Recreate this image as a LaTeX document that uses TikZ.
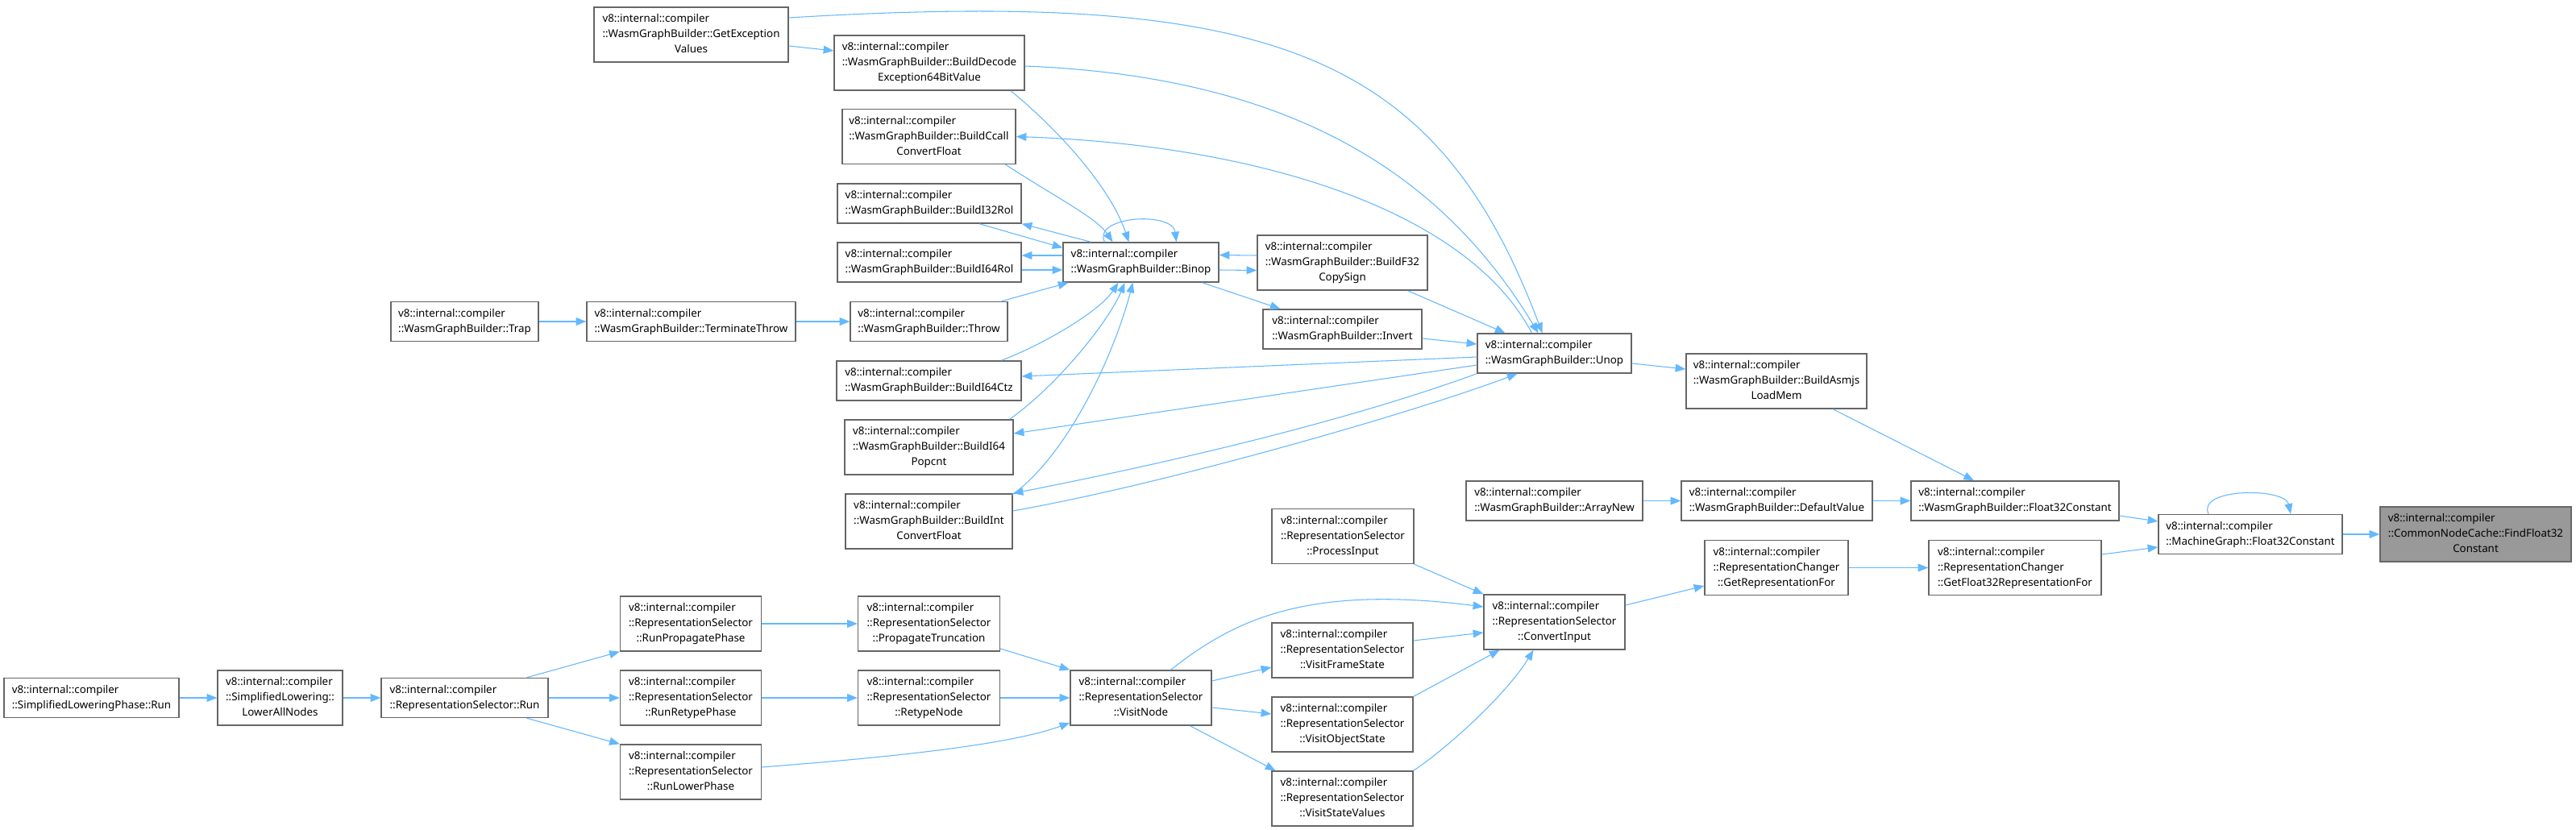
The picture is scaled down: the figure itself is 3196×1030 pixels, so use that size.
\documentclass[tikz,border=0pt]{standalone}
\usepackage{fontspec}
\setmainfont{Noto Sans}
\usepackage{tikz}
\usetikzlibrary{arrows.meta}
\definecolor{edgeblue}{HTML}{63B8FF}
\definecolor{boxline}{HTML}{666666}
\definecolor{hitfill}{HTML}{999999}
\newlength{\px}
\setlength{\px}{0.025cm}
\newcommand{\nsline}{\multicolumn{1}{@{}l@{}}{v8::internal::compiler}}
\newcommand{\fnii}[1]{\begin{tabular}{@{}c@{}}\nsline\\#1\end{tabular}}
\newcommand{\fniii}[2]{\begin{tabular}{@{}c@{}}\nsline\\\multicolumn{1}{@{}l@{}}{#1}\\#2\end{tabular}}
\tikzset{
  fn/.style={draw=boxline, line width=1pt, fill=white, inner sep=0pt, minimum height=49\px},
  fnt/.style={fn, minimum height=68\px},
  hit/.style={fnt, fill=hitfill},
  arrow/.style={-{Triangle[length=9pt,width=7pt]}, draw=edgeblue, line width=0.75pt}
}
\begin{document}
\begin{tikzpicture}[x=0.025cm, y=-0.025cm, font={\fontsize{9.5pt}{13.5pt}\selectfont}]
  \path[use as bounding box, fill=white] (0,0) rectangle (3196,1030);

  % WasmGraphBuilder callers
  \node[fnt, minimum width=241\px] (gev) at (857.5,43) {\fniii{::WasmGraphBuilder::GetException}{Values}};
  \node[fnt, minimum width=236\px] (bdec) at (1153,78) {\fniii{::WasmGraphBuilder::BuildDecode}{Exception64BitValue}};
  \node[fnt, minimum width=215\px] (bccall) at (1152.5,169.5) {\fniii{::WasmGraphBuilder::BuildCcall}{ConvertFloat}};
  \node[fn, minimum width=228\px] (bi32rol) at (1153,252.5) {\fnii{::WasmGraphBuilder::BuildI32Rol}};
  \node[fn, minimum width=228\px] (bi64rol) at (1153,325.5) {\fnii{::WasmGraphBuilder::BuildI64Rol}};
  \node[fn, minimum width=193\px] (binop) at (1415.5,325.5) {\fnii{::WasmGraphBuilder::Binop}};
  \node[fn, minimum width=183\px] (trap) at (576.5,399) {\fnii{::WasmGraphBuilder::Trap}};
  \node[fn, minimum width=259\px] (tthrow) at (857.5,399) {\fnii{::WasmGraphBuilder::TerminateThrow}};
  \node[fn, minimum width=195\px] (thr) at (1152.5,399) {\fnii{::WasmGraphBuilder::Throw}};
  \node[fn, minimum width=229\px] (bi64ctz) at (1152.5,472.5) {\fnii{::WasmGraphBuilder::BuildI64Ctz}};
  \node[fnt, minimum width=209\px] (popcnt) at (1152.5,555) {\fniii{::WasmGraphBuilder::BuildI64}{Popcnt}};
  \node[fnt, minimum width=207\px] (bintcf) at (1152.5,647) {\fniii{::WasmGraphBuilder::BuildInt}{ConvertFloat}};
  \node[fnt, minimum width=211\px] (f32cs) at (1665.5,326) {\fniii{::WasmGraphBuilder::BuildF32}{CopySign}};
  \node[fn, minimum width=197\px] (invert) at (1665.5,408.5) {\fnii{::WasmGraphBuilder::Invert}};
  \node[fn, minimum width=191\px] (unop) at (1928.5,438.5) {\fnii{::WasmGraphBuilder::Unop}};
  \node[fnt, minimum width=224\px] (loadmem) at (2204,473) {\fniii{::WasmGraphBuilder::BuildAsmjs}{LoadMem}};
  \node[fn, minimum width=219\px] (arraynew) at (1928.5,621.5) {\fnii{::WasmGraphBuilder::ArrayNew}};
  \node[fn, minimum width=237\px] (defval) at (2204.5,621.5) {\fnii{::WasmGraphBuilder::DefaultValue}};
  \node[fn, minimum width=258\px] (wf32c) at (2500,621.5) {\fnii{::WasmGraphBuilder::Float32Constant}};
  \node[fn, minimum width=228\px] (mgf32c) at (2792,663) {\fnii{::MachineGraph::Float32Constant}};
  \node[hit, minimum width=237\px] (find) at (3071.5,663) {\fniii{::CommonNodeCache::FindFloat32}{Constant}};

  % representation selector side
  \node[fnt, minimum width=214\px] (getf32r) at (2500,704.5) {\fniii{::RepresentationChanger}{::GetFloat32RepresentationFor}};
  \node[fnt, minimum width=178\px] (getrep) at (2204,704.5) {\fniii{::RepresentationChanger}{::GetRepresentationFor}};
  \node[fnt, minimum width=175\px] (convin) at (1928.5,772) {\fniii{::RepresentationSelector}{::ConvertInput}};
  \node[fnt, minimum width=176\px] (procin) at (1666,665.5) {\fniii{::RepresentationSelector}{::ProcessInput}};
  \node[fnt, minimum width=175\px] (vfs) at (1665.5,807) {\fniii{::RepresentationSelector}{::VisitFrameState}};
  \node[fnt, minimum width=175\px] (vos) at (1665.5,899) {\fniii{::RepresentationSelector}{::VisitObjectState}};
  \node[fnt, minimum width=175\px] (vsv) at (1665.5,991) {\fniii{::RepresentationSelector}{::VisitStateValues}};
  \node[fnt, minimum width=175\px] (visitnode) at (1415.5,866) {\fniii{::RepresentationSelector}{::VisitNode}};
  \node[fnt, minimum width=176\px] (proptrunc) at (1152.5,774) {\fniii{::RepresentationSelector}{::PropagateTruncation}};
  \node[fnt, minimum width=176\px] (retype) at (1152.5,866) {\fniii{::RepresentationSelector}{::RetypeNode}};
  \node[fnt, minimum width=175\px] (runprop) at (857,774) {\fniii{::RepresentationSelector}{::RunPropagatePhase}};
  \node[fnt, minimum width=175\px] (runretype) at (857,866) {\fniii{::RepresentationSelector}{::RunRetypePhase}};
  \node[fnt, minimum width=175\px] (runlower) at (857,958) {\fniii{::RepresentationSelector}{::RunLowerPhase}};
  \node[fn, minimum width=207\px] (rsrun) at (576.5,866) {\fnii{::RepresentationSelector::Run}};
  \node[fnt, minimum width=155\px] (lowerall) at (347.5,866) {\fniii{::SimplifiedLowering::}{LowerAllNodes}};
  \node[fn, minimum width=217\px] (slprun) at (113.5,866) {\fnii{::SimplifiedLoweringPhase::Run}};

  % calls into Binop and Unop
  \draw[arrow] ([yshift=-14\px]gev.east) -- ([yshift=15\px]bdec.west);
  \draw[arrow] ([yshift=21\px]gev.east) .. controls (1578,-14) and (1782,64) .. ([xshift=-15\px]unop.north);
  \draw[arrow] ([yshift=-4\px]bdec.east) .. controls (1600,95) and (1788,214) .. ([xshift=-20\px]unop.north);
  \draw[arrow] ([xshift=-28\px]unop.north) .. controls (1820,260) and (1560,180) .. (bccall.east);
  \draw[arrow] ([xshift=101\px]bdec.south) .. controls (1300,150) and (1375,225) .. ([xshift=-15\px]binop.north);
  \draw[arrow] ([xshift=95\px]bccall.south) .. controls (1310,245) and (1360,270) .. ([xshift=-35\px]binop.north);
  \draw[arrow] ([xshift=62\px]bi32rol.south) -- ([yshift=18\px]binop.west);
  \draw[arrow] ([xshift=-62\px]binop.north) -- (bi32rol.south east);
  \draw[arrow] ([yshift=8.5\px]binop.west) -- ([yshift=8.5\px]bi64rol.east);
  \draw[arrow] ([yshift=-9.5\px]bi64rol.east) -- ([yshift=-9.5\px]binop.west);
  \draw[arrow] ([xshift=-45\px]binop.north) .. controls (1355,268) and (1455,262) .. ([xshift=44\px]binop.north);
  \draw[arrow] ([xshift=90\px]thr.north) -- ([xshift=-90\px]binop.south);
  \draw[arrow] ([xshift=90\px]bi64ctz.north) .. controls (1300,425) and (1365,385) .. ([xshift=-28\px]binop.south);
  \draw[arrow] ([yshift=-4.5\px]unop.west) -- ([yshift=5.5\px]bi64ctz.east);
  \draw[arrow] ([xshift=100\px]popcnt.north) .. controls (1310,480) and (1375,400) .. ([xshift=-20\px]binop.south);
  \draw[arrow] ([yshift=-14.5\px]unop.west) -- ([yshift=17\px]popcnt.east);
  \draw[arrow] (unop.south west) .. controls (1650,530) and (1420,580) .. (bintcf.north east);
  \draw[arrow] ([xshift=103\px,yshift=-2\px]bintcf.north) .. controls (1330,560) and (1385,430) .. ([xshift=-10\px]binop.south);
  \draw[arrow] ([yshift=13\px]bintcf.east) .. controls (1450,600) and (1760,510) .. ([xshift=-46\px]unop.south);
  \draw[arrow] ([yshift=9\px]f32cs.west) -- ([yshift=9\px]binop.east);
  \draw[arrow] ([yshift=-9.5\px]binop.east) -- ([yshift=-9.5\px]f32cs.west);
  \draw[arrow] ([xshift=76\px]binop.south) -- ([xshift=-77\px]invert.north);
  \draw[arrow] ([yshift=-11.5\px]invert.east) -- ([yshift=11.5\px]unop.west);
  \draw[arrow] ([xshift=81\px]f32cs.south) -- ([xshift=-61\px]unop.north);
  \draw[arrow] ([yshift=-12.5\px]unop.east) -- ([yshift=15\px]loadmem.west);
  \draw[arrow] (trap) -- (tthrow);
  \draw[arrow] (tthrow) -- (thr);

  % towards FindFloat32Constant
  \draw[arrow] ([xshift=70\px]loadmem.south) -- ([xshift=-51\px]wf32c.north);
  \draw[arrow] (arraynew) -- (defval);
  \draw[arrow] (defval) -- (wf32c);
  \draw[arrow] ([yshift=-18.5\px]wf32c.east) -- ([yshift=16\px]mgf32c.west);
  \draw[arrow] ([xshift=-52\px]mgf32c.north) .. controls (2725,605) and (2835,605) .. ([xshift=50\px]mgf32c.north);
  \draw[arrow] (mgf32c) -- (find);
  \draw[arrow] ([yshift=16.5\px]getf32r.east) -- ([yshift=-16\px]mgf32c.west);
  \draw[arrow] (getrep) -- (getf32r);
  \draw[arrow] ([yshift=21\px]convin.east) -- ([yshift=-22.5\px]getrep.west);

  % ConvertInput callers
  \draw[arrow] (procin.south east) -- (convin.north west);
  \draw[arrow] ([xshift=37\px]visitnode.north) .. controls (1530,770) and (1620,725) .. ([yshift=19\px]convin.west);
  \draw[arrow] ([yshift=12\px]vfs.east) -- ([yshift=-13\px]convin.west);
  \draw[arrow] (vos.north east) -- ([xshift=-68\px]convin.south);
  \draw[arrow] (vsv.north east) .. controls (1800,925) and (1870,860) .. ([xshift=-26\px]convin.south);
  \draw[arrow] ([yshift=21\px]visitnode.east) -- ([yshift=-21\px]vfs.west);
  \draw[arrow] ([yshift=-12\px]visitnode.east) -- ([yshift=13\px]vos.west);
  \draw[arrow] ([xshift=61\px]visitnode.south) -- ([xshift=-83\px]vsv.north);
  \draw[arrow] ([yshift=-31\px]proptrunc.east) -- (visitnode.north west);
  \draw[arrow] (retype) -- (visitnode);
  \draw[arrow] ([yshift=6\px]runlower.east) .. controls (1100,940) and (1250,925) .. ([yshift=-31\px]visitnode.west);
  \draw[arrow] (runprop) -- (proptrunc);
  \draw[arrow] (runretype) -- (retype);
  \draw[arrow] ([xshift=77\px]rsrun.north) -- (runprop.south west);
  \draw[arrow] (rsrun) -- (runretype);
  \draw[arrow] ([xshift=77\px]rsrun.south) -- (runlower.north west);
  \draw[arrow] (lowerall) -- (rsrun);
  \draw[arrow] (slprun) -- (lowerall);
\end{tikzpicture}
\end{document}
